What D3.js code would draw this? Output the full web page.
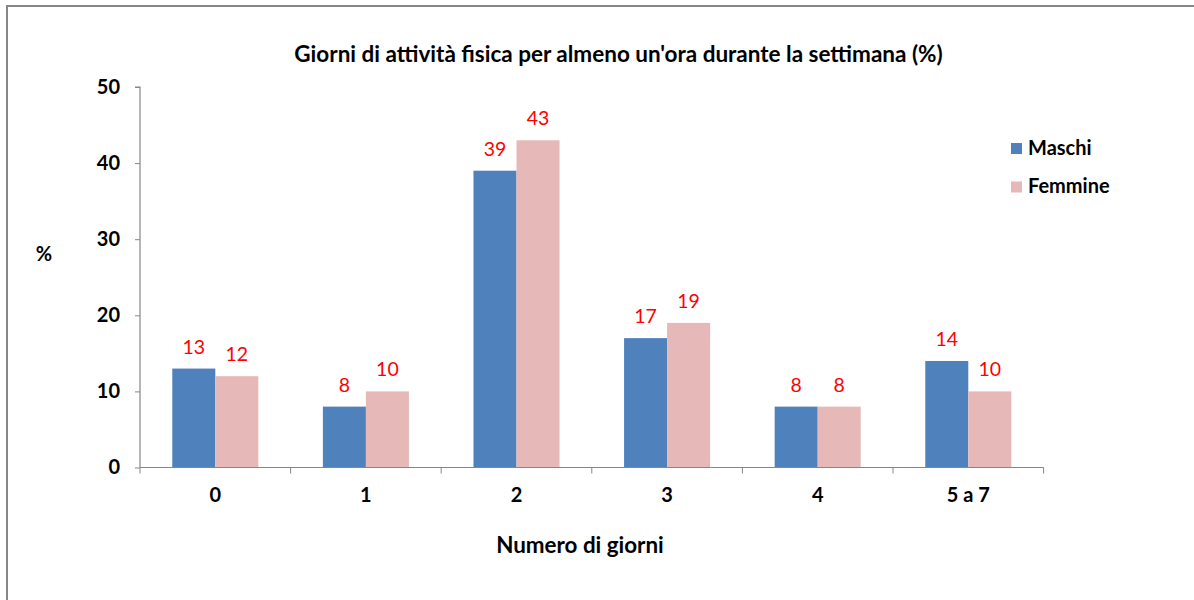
<!DOCTYPE html>
<html><head><meta charset="utf-8">
<script src="https://cdn.jsdelivr.net/npm/d3@7"></script>
<style>body{margin:0;background:#fff}svg{display:block}text{font-family:Lato,"Open Sans",sans-serif}</style>
</head><body>
<svg id="c" width="1194" height="600"></svg>
<script>
const categories = ["0","1","2","3","4","5 a 7"];
const seriesNames = ["Maschi","Femmine"];
const maschi = [13,8,39,17,8,14];
const femmine = [12,10,43,19,8,10];
const yTicks = [0,10,20,30,40,50];
const colors = ["#4F81BD","#E6B9B8"];
const title = "Giorni di attività fisica per almeno un'ora durante la settimana (%)";
const xTitle = "Numero di giorni";
const yTitle = "%";

const svg = d3.select("#c");
// frame
svg.append("rect").attr("x",7).attr("y",6).attr("width",1200).attr("height",610)
  .attr("fill","none").attr("stroke","#878787").attr("stroke-width",2);

const pLeft=140, pRight=1043.6, pTop=87, pBottom=467.5;
const x0 = d3.scaleBand().domain(categories).range([pLeft,pRight]).paddingInner(0.4286).paddingOuter(0.2143);
const x1 = d3.scaleBand().domain(seriesNames).range([0,x0.bandwidth()]);
const y = d3.scaleLinear().domain([0,50]).range([pBottom,pTop]);

const data = categories.map((c,i)=>({cat:c, vals:[maschi[i],femmine[i]]}));

const g = svg.append("g");
data.forEach(d=>{
  d.vals.forEach((v,j)=>{
    g.append("rect").attr("x",x0(d.cat)+x1(seriesNames[j])).attr("width",x1.bandwidth())
      .attr("y",y(v)).attr("height",y(0)-y(v)).attr("fill",colors[j]);
    g.append("text").attr("x",x0(d.cat)+x1(seriesNames[j])+x1.bandwidth()/2).attr("y",y(v)-15)
      .attr("text-anchor","middle").attr("fill","#FF0000").attr("font-size",19.5).text(v);
  });
});

// y axis
const yAxis = svg.append("g").attr("transform",`translate(${pLeft},0)`)
  .call(d3.axisLeft(y).tickValues(yTicks).tickSize(5).tickPadding(15).tickFormat(d3.format("d")));
yAxis.select(".domain").attr("stroke","#868686").attr("stroke-width",1.2).attr("d",`M-5,${pTop}H0V${pBottom}`);
yAxis.selectAll(".tick line").attr("stroke","#868686");
yAxis.selectAll("text").attr("font-size",20).attr("font-weight","bold").attr("fill","#000")
  .style("font-family","Lato,sans-serif");

// x axis
const xa = svg.append("g").attr("transform",`translate(0,${pBottom})`);
xa.append("line").attr("x1",pLeft).attr("x2",pRight).attr("y1",0).attr("y2",0).attr("stroke","#868686").attr("stroke-width",1.2);
const bounds = categories.map(c=>x0(c)-x0.step()*x0.paddingInner()/2).concat([pRight]);
xa.selectAll(".xt").data(bounds).join("line").attr("x1",d=>d).attr("x2",d=>d).attr("y1",0).attr("y2",6).attr("stroke","#868686");
xa.selectAll(".xl").data(categories).join("text").attr("x",d=>x0(d)+x0.bandwidth()/2).attr("y",34.5)
  .attr("text-anchor","middle").attr("font-size",20).attr("font-weight","bold").text(d=>d);

svg.append("text").attr("x",618.5).attr("y",62).attr("text-anchor","middle").attr("font-size",22.5).attr("font-weight","bold").text(title);
svg.append("text").attr("x",580).attr("y",553).attr("text-anchor","middle").attr("font-size",22.4).attr("font-weight","bold").text(xTitle);
svg.append("text").attr("x",44).attr("y",261).attr("text-anchor","middle").attr("font-size",20).attr("font-weight","bold").text(yTitle);

// legend
seriesNames.forEach((s,i)=>{
  const ly = 143 + i*38.5;
  svg.append("rect").attr("x",1011).attr("y",ly).attr("width",11).attr("height",11).attr("fill",colors[i]);
  svg.append("text").attr("x",1028).attr("y",ly+11.5).attr("font-size",20).attr("font-weight","bold").text(s);
});
</script>
</body></html>
